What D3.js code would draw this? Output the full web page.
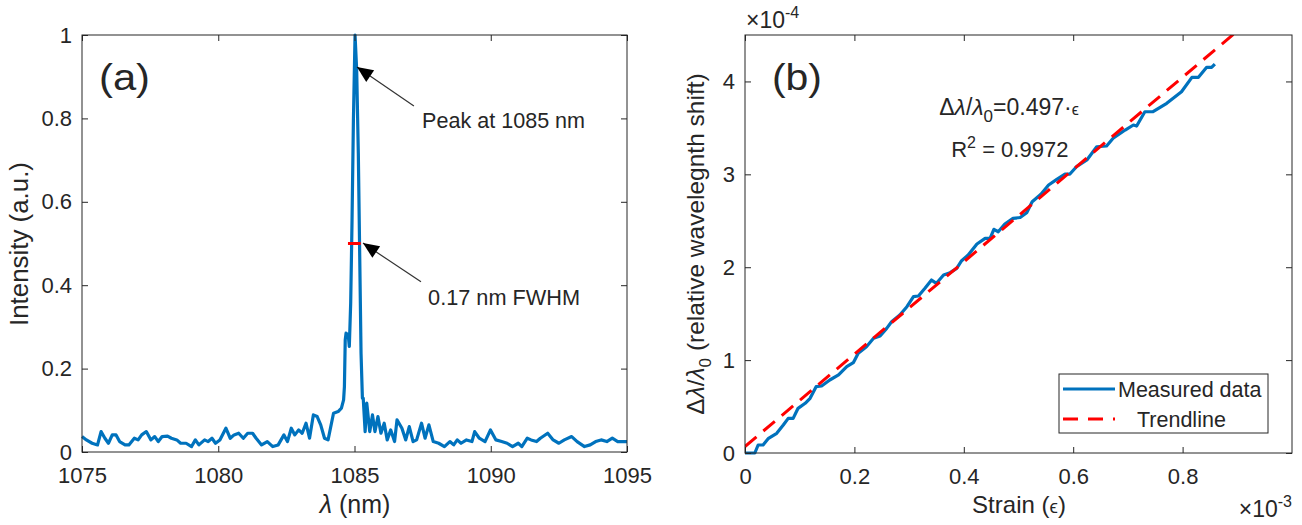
<!DOCTYPE html>
<html><head><meta charset="utf-8">
<script src="https://cdn.jsdelivr.net/npm/d3@7"></script>
<style>
body{margin:0;background:#fff}
text{font-family:"Liberation Sans",Arial,sans-serif;fill:#262626}
</style>
</head><body>
<svg id="c" width="1302" height="525"></svg>
<script>
// ---------- Panel (a): spectrum ----------
const wavelength = [1075.00,1075.16,1075.37,1075.57,1075.70,1075.84,1075.97,1076.11,1076.25,1076.38,1076.58,1076.72,1076.92,1077.06,1077.19,1077.36,1077.53,1077.67,1077.80,1077.94,1078.14,1078.28,1078.48,1078.62,1078.82,1079.02,1079.16,1079.29,1079.50,1079.63,1079.77,1079.90,1080.06,1080.28,1080.44,1080.58,1080.75,1080.92,1081.08,1081.26,1081.39,1081.59,1081.80,1082.00,1082.20,1082.41,1082.54,1082.68,1082.81,1082.95,1083.08,1083.22,1083.35,1083.49,1083.63,1083.76,1083.90,1084.03,1084.23,1084.40,1084.52,1084.60,1084.63,1084.66,1084.69,1084.77,1084.81,1084.86,1084.91,1084.96,1085.02,1085.08,1085.14,1085.19,1085.24,1085.29,1085.32,1085.39,1085.45,1085.56,1085.66,1085.75,1085.86,1085.97,1086.09,1086.20,1086.33,1086.47,1086.56,1086.74,1086.88,1087.01,1087.15,1087.28,1087.46,1087.59,1087.73,1087.89,1088.09,1088.30,1088.50,1088.64,1088.77,1088.91,1089.11,1089.31,1089.41,1089.58,1089.79,1089.99,1090.19,1090.40,1090.60,1090.80,1091.01,1091.14,1091.34,1091.48,1091.68,1091.82,1092.09,1092.29,1092.50,1092.70,1092.97,1093.17,1093.44,1093.65,1093.85,1094.05,1094.26,1094.46,1094.66,1095.00];
const intensity = [0.037,0.029,0.021,0.017,0.049,0.033,0.021,0.041,0.041,0.025,0.017,0.017,0.033,0.029,0.041,0.049,0.029,0.037,0.025,0.037,0.038,0.033,0.029,0.021,0.021,0.013,0.029,0.017,0.029,0.025,0.033,0.021,0.029,0.057,0.033,0.041,0.045,0.033,0.045,0.045,0.033,0.017,0.025,0.013,0.017,0.041,0.025,0.057,0.041,0.053,0.045,0.069,0.033,0.089,0.085,0.065,0.033,0.029,0.093,0.097,0.105,0.125,0.157,0.269,0.285,0.281,0.253,0.357,0.556,0.796,1.0,0.916,0.717,0.477,0.237,0.129,0.129,0.049,0.117,0.049,0.089,0.049,0.085,0.045,0.069,0.029,0.053,0.025,0.077,0.057,0.029,0.061,0.025,0.029,0.069,0.033,0.065,0.025,0.021,0.013,0.025,0.017,0.029,0.021,0.029,0.025,0.049,0.033,0.025,0.053,0.029,0.025,0.021,0.013,0.021,0.013,0.033,0.029,0.025,0.033,0.045,0.029,0.021,0.029,0.037,0.025,0.013,0.017,0.025,0.029,0.025,0.033,0.025,0.025];
const fwhmWavelength = [1084.76, 1085.23];
const fwhmIntensity = [0.5, 0.5];
const xTicksA = [1075, 1080, 1085, 1090, 1095];
const yTicksA = [0, 0.2, 0.4, 0.6, 0.8, 1];

// ---------- Panel (b): strain (x1e-3) vs shift (x1e-4) ----------
const strain = [0,0.009,0.018,0.024,0.033,0.043,0.058,0.070,0.079,0.088,0.097,0.110,0.119,0.130,0.140,0.155,0.171,0.186,0.198,0.207,0.222,0.235,0.247,0.259,0.268,0.283,0.296,0.308,0.317,0.329,0.341,0.350,0.363,0.375,0.387,0.396,0.408,0.424,0.439,0.448,0.455,0.463,0.475,0.490,0.503,0.515,0.525,0.541,0.555,0.570,0.585,0.594,0.606,0.625,0.643,0.661,0.673,0.695,0.710,0.716,0.731,0.746,0.771,0.798,0.817,0.829,0.844,0.853,0.859];
const shift = [0,0,0,0.086,0.086,0.158,0.212,0.301,0.373,0.373,0.481,0.535,0.589,0.714,0.721,0.786,0.840,0.929,0.972,1.073,1.144,1.235,1.259,1.342,1.413,1.485,1.575,1.683,1.690,1.773,1.862,1.827,1.916,1.941,1.988,2.070,2.131,2.250,2.311,2.311,2.408,2.382,2.465,2.526,2.535,2.587,2.705,2.786,2.885,2.946,3.003,3.003,3.082,3.154,3.297,3.305,3.388,3.477,3.531,3.520,3.674,3.674,3.764,3.889,4.044,4.044,4.152,4.152,4.187];
const trendStrain = [0, 1.0];
const trendShift = [0.07, 5.04];
const xTicksB = [0, 0.2, 0.4, 0.6, 0.8];
const yTicksB = [0, 1, 2, 3, 4];
const legendLabels = ["Measured data", "Trendline"];

const BLUE = "#0072BD", RED = "#FF0000", AX = "#262626";
const TICK_FS = 22, ANN_FS = 21.5;

const svg = d3.select("#c");

function fmt(d){ return String(+d.toFixed(1)); }

function drawAxes(g, x, y, xt, yt){
  const [x0,x1] = x.range(), [y0,y1] = y.range();
  g.append("g").attr("transform",`translate(0,${y0})`)
    .call(d3.axisBottom(x).tickValues(xt).tickFormat(fmt).tickSizeInner(-6).tickSizeOuter(0).tickPadding(15));
  g.append("g").attr("transform",`translate(0,${y1})`)
    .call(d3.axisTop(x).tickValues(xt).tickFormat("").tickSizeInner(-6).tickSizeOuter(0));
  g.append("g").attr("transform",`translate(${x0},0)`)
    .call(d3.axisLeft(y).tickValues(yt).tickFormat(fmt).tickSizeInner(-6).tickSizeOuter(0).tickPadding(10));
  g.append("g").attr("transform",`translate(${x1},0)`)
    .call(d3.axisRight(y).tickValues(yt).tickFormat("").tickSizeInner(-6).tickSizeOuter(0));
  g.selectAll(".domain").remove();
  g.selectAll(".tick line").attr("stroke",AX).attr("stroke-width",1);
  g.selectAll(".tick text").attr("font-size",TICK_FS).attr("fill",AX)
    .style("font-family",'"Liberation Sans",Arial,sans-serif');
  g.append("rect").attr("x",x0).attr("y",y1).attr("width",x1-x0).attr("height",y0-y1)
    .attr("fill","none").attr("stroke",AX).attr("stroke-width",1);
}

function arrow(g, x1,y1,x2,y2){
  g.append("line").attr("x1",x1).attr("y1",y1).attr("x2",x2).attr("y2",y2)
    .attr("stroke","#333").attr("stroke-width",1.2);
  const a = Math.atan2(y2-y1,x2-x1), L=16, W=7;
  const bx = x2 - L*Math.cos(a), by = y2 - L*Math.sin(a);
  const px = -Math.sin(a)*W, py = Math.cos(a)*W;
  g.append("path").attr("d",`M${x2},${y2}L${bx+px},${by+py}L${bx-px},${by-py}Z`).attr("fill","#000");
}

// ===== Panel A =====
const xA = d3.scaleLinear().domain([1075,1095]).range([82,627]);
const yA = d3.scaleLinear().domain([0,1]).range([452,35]);
const gA = svg.append("g");
const specData = wavelength.map((w,i)=>[w,intensity[i]]);
gA.append("path").datum(specData)
  .attr("d", d3.line().x(d=>xA(d[0])).y(d=>yA(d[1])))
  .attr("fill","none").attr("stroke",BLUE).attr("stroke-width",3.2).attr("stroke-linejoin","round");
gA.append("path").datum(fwhmWavelength.map((w,i)=>[w,fwhmIntensity[i]]))
  .attr("d", d3.line().x(d=>xA(d[0])).y(d=>yA(d[1])))
  .attr("stroke",RED).attr("stroke-width",3);
drawAxes(gA, xA, yA, xTicksA, yTicksA);

gA.append("text").attr("x",99).attr("y",90).attr("font-size",36)
  .attr("textLength",51).attr("lengthAdjust","spacingAndGlyphs").text("(a)");
arrow(gA, xA(1087.18), yA(0.83), xA(1085.09), yA(0.923));
arrow(gA, xA(1087.44), yA(0.408), xA(1085.31), yA(0.501));
gA.append("text").attr("x",xA(1087.48)).attr("y",yA(0.777)).attr("font-size",ANN_FS).attr("fill","#000")
  .attr("textLength",163).attr("lengthAdjust","spacingAndGlyphs").text("Peak at 1085 nm");
gA.append("text").attr("x",xA(1087.70)).attr("y",yA(0.3525)).attr("font-size",ANN_FS).attr("fill","#000")
  .attr("textLength",152).attr("lengthAdjust","spacingAndGlyphs").text("0.17 nm FWHM");
gA.append("text").attr("transform","translate(27.5,244) rotate(-90)").attr("text-anchor","middle")
  .attr("font-size",25).attr("textLength",164).attr("lengthAdjust","spacingAndGlyphs").text("Intensity (a.u.)");
const xlA = gA.append("text").attr("x",355).attr("y",513).attr("text-anchor","middle").attr("font-size",25);
xlA.append("tspan").attr("font-style","italic").text("λ");
xlA.append("tspan").text(" (nm)");

// ===== Panel B =====
const xB = d3.scaleLinear().domain([0,1]).range([745,1292]);
const yB = d3.scaleLinear().domain([0,4.5]).range([453,35]);
const gB = svg.append("g");
svg.append("defs").append("clipPath").attr("id","clipB").append("rect")
  .attr("x",745).attr("y",35).attr("width",547).attr("height",418);
const meas = strain.map((s,i)=>[s,shift[i]]);
gB.append("path").datum(meas)
  .attr("d", d3.line().x(d=>xB(d[0])).y(d=>yB(d[1])))
  .attr("fill","none").attr("stroke",BLUE).attr("stroke-width",3.2).attr("stroke-linejoin","round");
gB.append("path").datum(trendStrain.map((s,i)=>[s,trendShift[i]]))
  .attr("clip-path","url(#clipB)")
  .attr("d", d3.line().x(d=>xB(d[0])).y(d=>yB(d[1])))
  .attr("fill","none").attr("stroke",RED).attr("stroke-width",3).attr("stroke-dasharray","15,9");
drawAxes(gB, xB, yB, xTicksB, yTicksB);

gB.append("text").attr("x",772).attr("y",90).attr("font-size",36)
  .attr("textLength",50).attr("lengthAdjust","spacingAndGlyphs").text("(b)");

// exponent labels
const e4 = gB.append("text").attr("x",746).attr("y",28).attr("font-size",23);
e4.append("tspan").text("×10");
e4.append("tspan").attr("dy",-10).attr("font-size",16).text("-4");
const e3 = gB.append("text").attr("x",1292).attr("y",517).attr("text-anchor","end").attr("font-size",23);
e3.append("tspan").text("×10");
e3.append("tspan").attr("dy",-10).attr("font-size",16).text("-3");

// equation
const eq = gB.append("text").attr("x",xB(0.355)).attr("y",yB(3.64)).attr("font-size",23).attr("fill","#000");
eq.append("tspan").text("Δ");
eq.append("tspan").attr("font-style","italic").text("λ");
eq.append("tspan").text("/");
eq.append("tspan").attr("font-style","italic").text("λ");
eq.append("tspan").attr("dy",7).attr("font-size",17).text("0");
eq.append("tspan").attr("dy",-7).text("=0.497·");
eq.append("tspan").attr("font-size",16).text("ϵ");
const r2 = gB.append("text").attr("x",xB(0.377)).attr("y",yB(3.186)).attr("font-size",22).attr("fill","#000");
r2.append("tspan").text("R");
r2.append("tspan").attr("dy",-9).attr("font-size",16).text("2");
r2.append("tspan").attr("dy",9).text(" = 0.9972");

// axis labels
const yl = gB.append("text").attr("transform","translate(704,244) rotate(-90)").attr("text-anchor","middle").attr("font-size",24.5);
yl.append("tspan").text("Δ");
yl.append("tspan").attr("font-style","italic").text("λ");
yl.append("tspan").text("/");
yl.append("tspan").attr("font-style","italic").text("λ");
yl.append("tspan").attr("dy",7).attr("font-size",17).text("0");
yl.append("tspan").attr("dy",-7).text(" (relative wavelegnth shift)");
const xl = gB.append("text").attr("x",1019).attr("y",513).attr("text-anchor","middle").attr("font-size",24);
xl.append("tspan").text("Strain (");
xl.append("tspan").attr("font-size",19).text("ϵ");
xl.append("tspan").text(")");

// legend
const lg = gB.append("g");
lg.append("rect").attr("x",1059).attr("y",374).attr("width",209).attr("height",59)
  .attr("fill","#fff").attr("stroke",AX).attr("stroke-width",1);
lg.append("line").attr("x1",1063).attr("x2",1115).attr("y1",389).attr("y2",389)
  .attr("stroke",BLUE).attr("stroke-width",3);
lg.append("line").attr("x1",1063).attr("x2",1115).attr("y1",419).attr("y2",419)
  .attr("stroke",RED).attr("stroke-width",3).attr("stroke-dasharray","15,10");
lg.append("text").attr("x",1118).attr("y",397).attr("font-size",ANN_FS).attr("fill","#000").text(legendLabels[0]);
lg.append("text").attr("x",1137).attr("y",427).attr("font-size",ANN_FS).attr("fill","#000").text(legendLabels[1]);
</script>
</body></html>
